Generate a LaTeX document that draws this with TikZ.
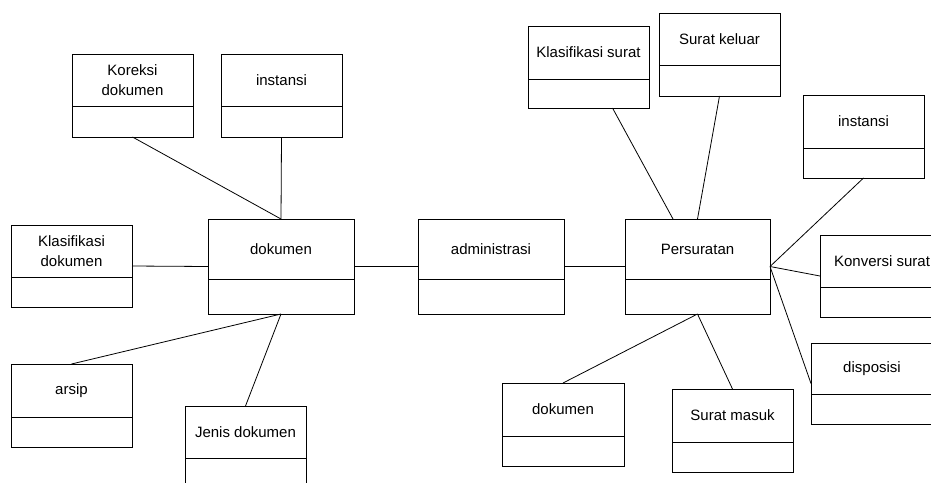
\documentclass[tikz,border=0pt]{standalone}
\usepackage{fontspec}
\setmainfont{Liberation Sans}
\tikzset{
  classframe/.style={draw=black, line width=0.9pt, rectangle, inner sep=0pt, outer sep=0pt},
  classline/.style={draw=black, line width=0.9pt},
  classname/.style={inner sep=0pt, align=center, font=\fontsize{15}{20}\selectfont},
  assoc/.style={draw=black, line width=0.8pt}
}
% \classbox{name}{left}{top}{width}{head height}{total height}{label}
\newcommand\classbox[7]{%
  \node[classframe, minimum width=#4pt, minimum height=#6pt, anchor=north west] (#1) at (#2,-#3) {};
  \draw[classline] (#1.north west) ++(0,-#5) -- ++(#4,0);
  \path (#1.north) ++(0,-#5/2) node[classname] (#1-t) {#7};
}
\begin{document}
\begin{tikzpicture}[x=1pt,y=1pt]
\useasboundingbox (0,0) rectangle (931,-482);
\clip (0,0) rectangle (931,-482);

% left group around "dokumen"
\classbox{kor}{72}{54}{121}{52}{83}{Koreksi\\dokumen}
\classbox{insA}{221}{54}{121}{52}{83}{instansi}
\classbox{kdok}{11}{225}{121}{52}{82}{Klasifikasi\\dokumen}
\classbox{dok}{208}{219}{146}{60}{95}{dokumen}
\classbox{arsip}{11}{364}{121}{53}{83}{arsip}
\classbox{jenis}{185}{406}{121}{52}{95}{Jenis dokumen}

% centre
\classbox{adm}{418}{219}{146}{60}{95}{administrasi}

% right group around "Persuratan"
\classbox{pers}{625}{219}{145}{60}{95}{Persuratan}
\classbox{ksur}{528}{26}{121}{53}{82}{Klasifikasi surat}
\classbox{skel}{659}{13}{121}{52}{83}{Surat keluar}
\classbox{insB}{803}{95}{121}{53}{83}{instansi}
\classbox{konv}{820}{235}{124}{52}{82}{Konversi surat}
\classbox{disp}{811}{343}{122}{51}{81}{disposisi}
\classbox{dokB}{502}{383}{122}{53}{83}{dokumen}
\classbox{smas}{672}{389}{121}{53}{83}{Surat masuk}

% associations
\draw[assoc] (kor.south) -- (dok.north);
\draw[assoc] (insA.south) -- (dok.north);
\draw[assoc] (kdok.east) -- (dok.west);
\draw[assoc] (arsip.north) -- (dok.south);
\draw[assoc] (jenis.north) -- (dok.south);
\draw[assoc] (dok.east) -- (adm.west);
\draw[assoc] (adm.east) -- (pers.west);
\draw[assoc] ([xshift=24pt]ksur.south) -- ([xshift=-24.5pt]pers.north);
\draw[assoc] (skel.south) -- (pers.north);
\draw[assoc] (insB.south) -- (pers.east);
\draw[assoc] (konv.west) -- (pers.east);
\draw[assoc] (disp.west) -- (pers.east);
\draw[assoc] (dokB.north) -- (pers.south);
\draw[assoc] (smas.north) -- (pers.south);
\end{tikzpicture}
\end{document}
